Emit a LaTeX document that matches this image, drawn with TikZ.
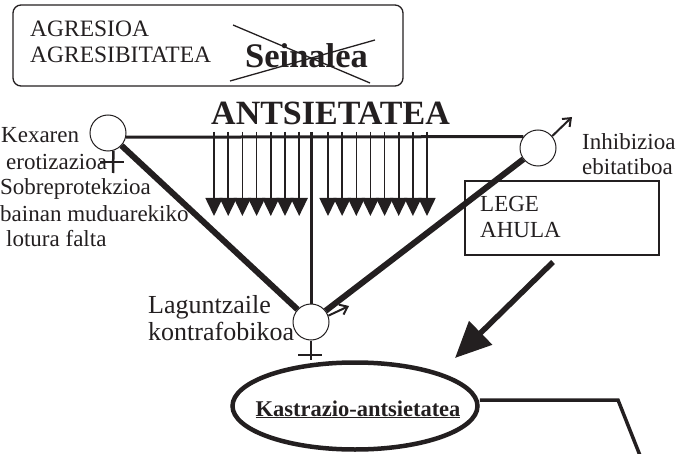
\documentclass[tikz,border=0pt]{standalone}
\usepackage{fontspec}
\setmainfont{Liberation Serif}
\usetikzlibrary{arrows.meta,shapes.geometric}
\definecolor{ink}{HTML}{231F20}
\begin{document}
\begin{tikzpicture}[x=1pt,y=-1pt,
  txt/.style={anchor=base west, inner sep=0pt, text=ink, font=\fontsize{23}{23}\selectfont},
  bigtxt/.style={anchor=base west, inner sep=0pt, text=ink, font=\fontsize{26}{26}\selectfont},
  boldtxt/.style={anchor=base west, inner sep=0pt, text=ink, font=\fontsize{33}{33}\selectfont\bfseries},
  knot/.style={circle, draw=ink, line width=1pt, fill=white, minimum size=36pt, inner sep=0pt},
  thickline/.style={draw=ink, line width=6pt},
  midline/.style={draw=ink, line width=3pt},
  thinline/.style={draw=ink, line width=1.3pt},
  downarrow/.style={draw=ink, fill=ink, line width=1.6pt, -{Triangle[length=18pt,width=17pt]}},
  smallarrow/.style={draw=ink, line width=2pt, -{Straight Barb[length=7pt,width=11pt]}},
  plusline/.style={draw=ink, line width=2.5pt}
]
\useasboundingbox (0,0) rectangle (682,454);

% top box
\node[draw=ink, line width=1.3pt, rounded corners=8pt, minimum width=390pt, minimum height=81pt, inner sep=0pt] (topbox) at (208,45.5) {};
\node[txt, font=\fontsize{23.5}{23.5}\selectfont] (agr1) at (30,37) {AGRESIOA};
\node[txt, font=\fontsize{23.5}{23.5}\selectfont] (agr2) at (30,63) {AGRESIBITATEA};
\node[boldtxt, font=\fontsize{34.5}{34.5}\selectfont\bfseries] (sein) at (245,68) {Seinalea};
\coordinate (c1a) at (233,25); \coordinate (c1b) at (370,83);
\coordinate (c2a) at (230,81); \coordinate (c2b) at (375,40);
\draw[thinline] (c1a) -- (c1b);
\draw[thinline] (c2a) -- (c2b);

% title
\node[boldtxt, font=\fontsize{34}{34}\selectfont\bfseries] (ants) at (211,125) {ANTSIETATEA};

% circles
\node[knot] (L) at (108,133) {};
\node[knot] (R) at (538,148) {};
\node[knot] (B) at (311,322) {};

% ellipse
\node[ellipse, draw=ink, line width=4.5pt, minimum width=245pt, minimum height=87pt, inner sep=0pt] (E) at (355,406) {};
\node[anchor=base, inner sep=0pt, text=ink, font=\fontsize{22.5}{22.5}\selectfont\bfseries] (Et) at (358,416) {\underline{Kastrazio-antsietatea}};

% main lines
\draw[midline] (L.-13) -- (R.142);
\draw[thickline] (L) -- (B);
\draw[thickline] (R) -- (B);
\coordinate (vtop) at (B.north |- 0,132);
\draw[midline] (vtop) -- (B.north);

% down arrows
\foreach \x [count=\i] in {214,228.2,242.4,256.6,270.8,285,299.2}{
  \coordinate (la\i) at (\x,132); \coordinate (lb\i) at (\x,216);
  \draw[downarrow] (la\i) -- (lb\i);
}
\foreach \x [count=\i] in {328,342.1,356.3,370.4,384.6,398.7,412.9,427}{
  \coordinate (ra\i) at (\x,132); \coordinate (rb\i) at (\x,216);
  \draw[downarrow] (ra\i) -- (rb\i);
}

% small arrows
\coordinate (Rtip) at (572,117);
\draw[smallarrow] (R.40) -- (Rtip);
\coordinate (Btip) at (349,306);
\draw[smallarrow] (B.20) -- (Btip);

% plus signs
\coordinate (Lp) at (113,173);
\draw[plusline] (L.-73) -- (Lp);
\coordinate (Lh1) at (100,162); \coordinate (Lh2) at (124,162);
\draw[plusline] (Lh1) -- (Lh2);
\draw[plusline] (B.south) -- (E.north -| B.south);
\coordinate (Bh1) at (298,355); \coordinate (Bh2) at (322,355);
\draw[plusline] (Bh1) -- (Bh2);

% left texts
\node[txt] (t1) at (1,143) {Kexaren};
\node[txt] (t2) at (6,170) {erotizazioa};
\node[txt] (t3) at (0,195) {Sobreprotekzioa};
\node[txt] (t4) at (0,222) {bainan muduarekiko};
\node[txt] (t5) at (6,247) {lotura falta};

% right texts
\node[txt] (inh1) at (582,150) {Inhibizioa};
\node[txt] (inh2) at (582,175) {ebitatiboa};

% lege box
\node[draw=ink, line width=1.3pt, minimum width=194pt, minimum height=74pt, inner sep=0pt] (lege) at (562,218) {};
\node[txt] (lg1) at (480,212) {LEGE};
\node[txt] (lg2) at (480,238) {AHULA};

% big arrow
\coordinate (bigA) at (553,262);
\coordinate (bigB) at (455,358);
\draw[draw=ink, line width=5.5pt, -{Triangle[length=36pt,width=32pt]}] (bigA) -- (bigB);

% laguntzaile
\node[bigtxt] (lag1) at (148,313) {Laguntzaile};
\node[bigtxt] (lag2) at (148,340) {kontrafobikoa};

% right line from ellipse
\coordinate (corner) at (618,400);
\coordinate (endp) at (641,458);
\draw[draw=ink, line width=3.5pt] (E.east |- corner) -- (corner) -- (endp);
\end{tikzpicture}
\end{document}
